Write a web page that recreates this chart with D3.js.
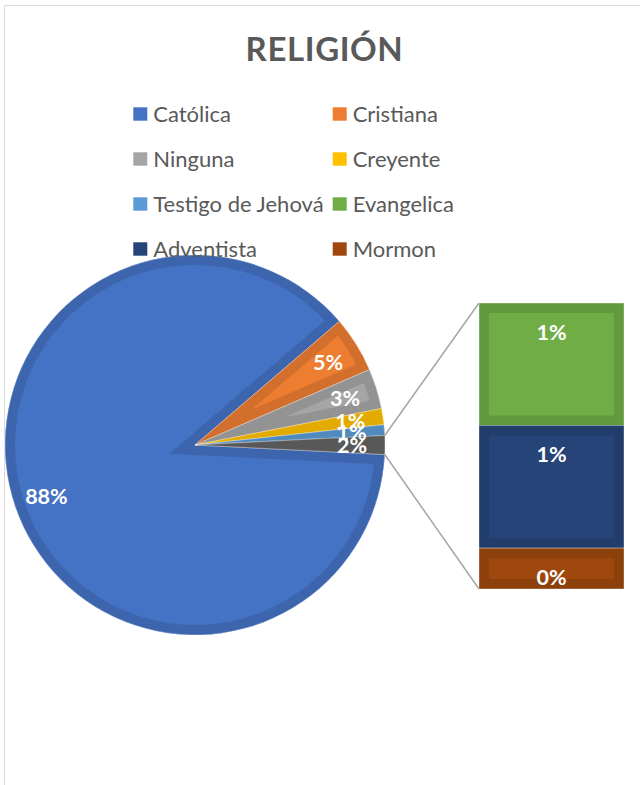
<!DOCTYPE html>
<html>
<head>
<meta charset="utf-8">
<script src="https://cdn.jsdelivr.net/npm/d3@7"></script>
<style>
  body { margin: 0; background: #fff; }
  svg { display: block; font-family: Lato, "Open Sans", sans-serif; }
</style>
</head>
<body>
<svg id="chart" width="640" height="785"></svg>
<script>
// counts (labels are rounded percentages)
const pieCategories = ['Católica', 'Cristiana', 'Ninguna', 'Creyente', 'Testigo de Jehová'];
const pieValues = [386, 21, 15, 6, 4];
const barCategories = ['Evangelica', 'Adventista', 'Mormon'];
const barValues = [3, 3, 1];
const legendOrder = ['Católica', 'Cristiana', 'Ninguna', 'Creyente', 'Testigo de Jehová', 'Evangelica', 'Adventista', 'Mormon'];

const colors = {
    'Católica': '#4472C4',
    'Cristiana': '#ED7D31',
    'Ninguna': '#A5A5A5',
    'Creyente': '#FFC000',
    'Testigo de Jehová': '#5B9BD5',
    'Evangelica': '#70AD47',
    'Adventista': '#264478',
    'Mormon': '#9E480E',
    'Otros': '#636363'
};

const svg = d3.select('#chart');

const otherTotal = d3.sum(barValues);
const total = d3.sum(pieValues) + otherTotal;
const pct = v => Math.round(v / total * 100) + '%';

const cx = 195, cy = 445, radius = 190;
const band = 10;
const labelRadius = 157;
const bar = { x0: 479, x1: 624, y0: 303, y1: 589 };

// chart frame
svg.append('rect')
    .attr('x', 4.5).attr('y', 5.5)
    .attr('width', 800).attr('height', 900)
    .attr('fill', 'none')
    .attr('stroke', '#d9d9d9')
    .attr('stroke-width', 1);

svg.append('text')
    .attr('x', 324.5).attr('y', 60.7)
    .attr('text-anchor', 'middle')
    .style('font-size', '33px')
    .style('font-weight', 700)
    .style('letter-spacing', '0.6px')
    .attr('fill', '#595959')
    .text('RELIGIÓN');

const defs = svg.append('defs');
var clipId = 0;

// slice with a darker inner band (Excel preset style)
function bevel(g, d, color) {
    const id = 'clip' + (clipId++);
    defs.append('clipPath').attr('id', id).append('path').attr('d', d);
    g.append('path').attr('d', d).attr('fill', color);
    g.append('path').attr('d', d)
        .attr('fill', 'none')
        .attr('stroke', d3.rgb(color).darker(0.33))
        .attr('stroke-width', band * 2)
        .attr('clip-path', `url(#${id})`);
    g.append('path').attr('d', d)
        .attr('fill', 'none')
        .attr('stroke', '#fff')
        .attr('stroke-opacity', 0.35)
        .attr('stroke-width', 1);
}

const pieData = pieCategories.map((c, i) => ({ name: c, value: pieValues[i] }));
pieData.push({ name: 'Otros', value: otherTotal });

// "other" slice centred on 3 o'clock
const start = Math.PI / 2 + Math.PI * otherTotal / total;
const pie = d3.pie().value(d => d.value).sort(null)
    .startAngle(start).endAngle(start + 2 * Math.PI);
const arcs = pie(pieData);
const arc = d3.arc().innerRadius(0).outerRadius(radius);

const pieG = svg.append('g').attr('transform', `translate(${cx},${cy})`);
arcs.forEach(a => bevel(pieG, arc(a), colors[a.data.name]));

// connector lines to the bar
const otherArc = arcs[arcs.length - 1];
const rim = ang => [cx + radius * Math.sin(ang), cy - radius * Math.cos(ang)];
const pTop = rim(otherArc.startAngle), pBot = rim(otherArc.endAngle);
svg.append('line')
    .attr('x1', pTop[0]).attr('y1', pTop[1]).attr('x2', bar.x0).attr('y2', bar.y0)
    .attr('stroke', '#a6a6a6').attr('stroke-width', 1.5);
svg.append('line')
    .attr('x1', pBot[0]).attr('y1', pBot[1]).attr('x2', bar.x0).attr('y2', bar.y1)
    .attr('stroke', '#a6a6a6').attr('stroke-width', 1.5);

// pie labels
const labelArc = d3.arc().innerRadius(labelRadius).outerRadius(labelRadius);
pieG.selectAll('text.pieLabel')
    .data(arcs)
    .join('text')
    .attr('class', 'pieLabel')
    .attr('transform', d => `translate(${labelArc.centroid(d)})`)
    .attr('text-anchor', 'middle')
    .attr('dy', '0.36em')
    .style('font-size', '21.5px')
    .style('font-weight', 700)
    .attr('fill', '#fff')
    .text(d => pct(d.data.value));

// stacked bar of the "other" group
const stacked = [];
var acc = 0;
barCategories.forEach((c, i) => {
    stacked.push({ name: c, value: barValues[i], y0: acc, y1: acc + barValues[i] });
    acc += barValues[i];
});
const yBar = d3.scaleLinear().domain([0, otherTotal]).range([bar.y0, bar.y1]);
const barG = svg.append('g');
stacked.forEach(s => {
    const p = d3.path();
    p.rect(bar.x0, yBar(s.y0), bar.x1 - bar.x0, yBar(s.y1) - yBar(s.y0));
    bevel(barG, p.toString(), colors[s.name]);
});
barG.selectAll('text.barLabel')
    .data(stacked)
    .join('text')
    .attr('class', 'barLabel')
    .attr('x', (bar.x0 + bar.x1) / 2)
    .attr('y', d => yBar(d.y0) + 29)
    .attr('text-anchor', 'middle')
    .attr('dy', '0.36em')
    .style('font-size', '21.5px')
    .style('font-weight', 700)
    .attr('fill', '#fff')
    .text(d => pct(d.value));

// legend, two columns
const legendCols = [133.3, 332.7];
const legendRow0 = 121.7, legendStep = 45;
const legend = svg.append('g').attr('class', 'legend');
const items = legend.selectAll('g.item')
    .data(legendOrder)
    .join('g')
    .attr('class', 'item')
    .attr('transform', (d, i) => `translate(${legendCols[i % 2]},${legendRow0 + Math.floor(i / 2) * legendStep})`);
items.append('rect')
    .attr('x', 0).attr('y', -14.4)
    .attr('width', 14).attr('height', 13.4)
    .attr('fill', d => colors[d]);
items.append('text')
    .attr('x', 20)
    .style('font-size', '22px')
    .attr('fill', '#595959')
    .text(d => d);
</script>
</body>
</html>
